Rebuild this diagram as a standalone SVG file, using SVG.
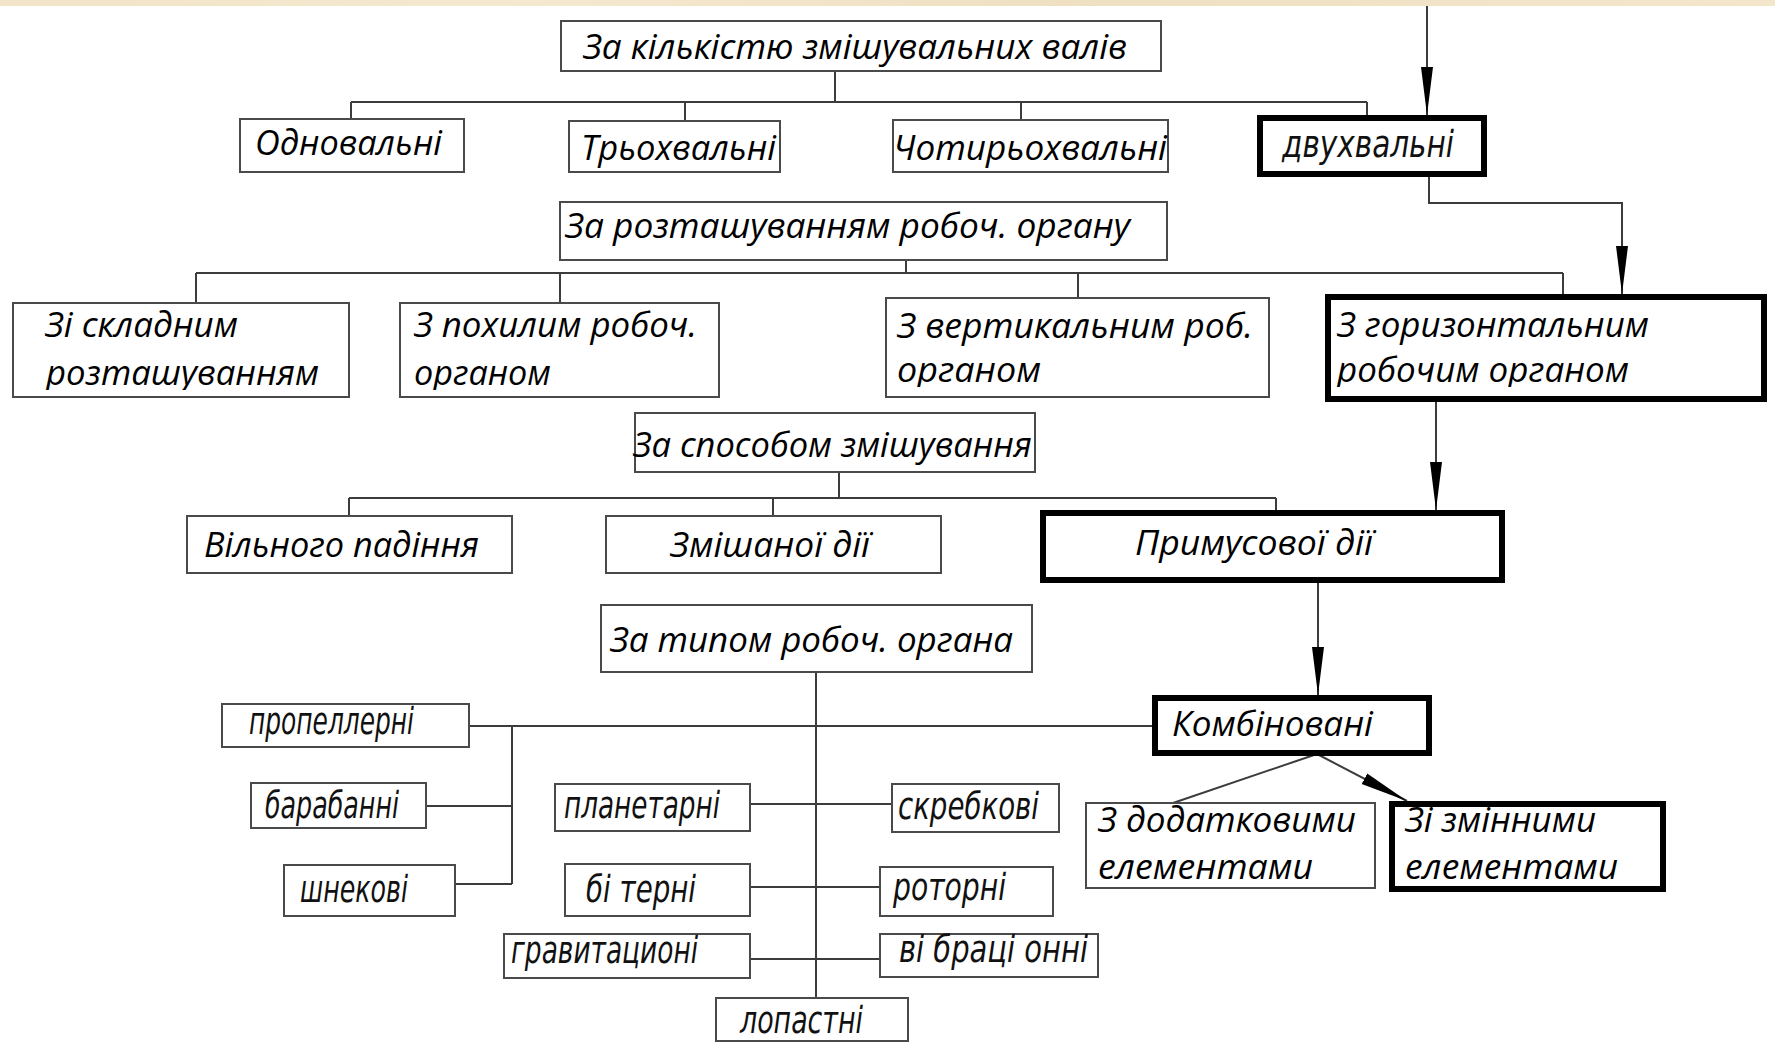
<svg xmlns="http://www.w3.org/2000/svg" width="1775" height="1044" viewBox="0 0 1775 1044">
<style>
.bx{fill:#fff;stroke:#4a4a4a;stroke-width:2}
.bb{fill:#fff;stroke:#000;stroke-width:6}
.ln{fill:none;stroke:#3c3c3c;stroke-width:2}
.t{font-family:"Open Sans","Noto Sans",sans-serif;font-style:italic;font-size:35px;fill:#000}
.g{font-family:"DejaVu Sans Condensed","DejaVu Sans",sans-serif;font-style:italic;font-size:37px;fill:#111}
</style>
<defs>
<linearGradient id="band" x1="0" x2="1" y1="0" y2="0">
<stop offset="0" stop-color="#f1e4c8"/><stop offset="0.3" stop-color="#f4e8cf"/><stop offset="0.6" stop-color="#efe0c2"/><stop offset="1" stop-color="#f3e6cb"/>
</linearGradient>
<marker id="ah" markerUnits="userSpaceOnUse" markerWidth="50" markerHeight="14" refX="48" refY="7" orient="auto">
<path d="M0,1 L48,7 L0,13 Z" fill="#000"/>
</marker>
<clipPath id="c1"><rect x="0" y="290" width="760" height="100"/></clipPath>
<clipPath id="c2"><rect x="880" y="290" width="890" height="97"/></clipPath>
</defs>
<rect width="1775" height="1044" fill="#fff"/>
<rect width="1775" height="6" fill="url(#band)"/>

<g id="connectors">
<path class="ln" d="M835,71 V102 M351,102 H1367 M351,102 V119 M685,102 V121 M1021,102 V120 M1367,102 V115"/>
<path class="ln" d="M906,260 V273 M196,273 H1563 M196,273 V303 M560,273 V303 M1078,273 V298 M1563,273 V294"/>
<path class="ln" d="M839,472 V498 M349,498 H1276 M349,498 V516 M773,498 V516 M1276,498 V510"/>
<path class="ln" d="M816,672 V998 M469,726 H1152 M512,726 V884 M426,806 H512 M455,884 H512 M750,804 H892 M750,887 H880 M750,959 H880"/>
<path class="ln" d="M1427,6 V115" marker-end="url(#ah)"/>
<path class="ln" d="M1429,177 V203 H1622 V294" marker-end="url(#ah)"/>
<path class="ln" d="M1436,402 V510" marker-end="url(#ah)"/>
<path class="ln" d="M1318,583 V695" marker-end="url(#ah)"/>
<path class="ln" d="M1317,754 L1173,803"/>
<path class="ln" d="M1317,754 L1407,801" marker-end="url(#ah)"/>
</g>

<g id="n-root1"><rect class="bx" x="561" y="21" width="600" height="50"/><text class="t" x="583" y="59" textLength="544" lengthAdjust="spacingAndGlyphs">За кількістю змішувальних валів</text></g>
<g id="n-odno"><rect class="bx" x="240" y="119" width="224" height="53"/><text class="t" x="255" y="155" textLength="187" lengthAdjust="spacingAndGlyphs">Одновальні</text></g>
<g id="n-troh"><rect class="bx" x="569" y="121" width="211" height="51"/><text class="t" x="581" y="160" textLength="195" lengthAdjust="spacingAndGlyphs">Трьохвальні</text></g>
<g id="n-chot"><rect class="bx" x="893" y="120" width="275" height="52"/><text class="t" x="893" y="160" textLength="274" lengthAdjust="spacingAndGlyphs">Чотирьохвальні</text></g>
<g id="n-dvuh"><rect class="bb" x="1260" y="118" width="224" height="56"/><text class="g" x="1282" y="157" textLength="172" lengthAdjust="spacingAndGlyphs">двухвальні</text></g>

<g id="n-root2"><rect class="bx" x="560" y="202" width="607" height="58"/><text class="t" x="565" y="238" textLength="565" lengthAdjust="spacingAndGlyphs">За розташуванням робоч. органу</text></g>
<g id="n-sklad"><rect class="bx" x="13" y="303" width="336" height="94"/><g clip-path="url(#c1)"><text class="t" x="45" y="337" textLength="193" lengthAdjust="spacingAndGlyphs">Зі складним</text><text class="t" x="46" y="385" textLength="273" lengthAdjust="spacingAndGlyphs">розташуванням</text></g></g>
<g id="n-poh"><rect class="bx" x="400" y="303" width="319" height="94"/><g clip-path="url(#c1)"><text class="t" x="414" y="337" textLength="283" lengthAdjust="spacingAndGlyphs">З похилим робоч.</text><text class="t" x="414" y="385" textLength="137" lengthAdjust="spacingAndGlyphs">органом</text></g></g>
<g id="n-vert"><rect class="bx" x="886" y="298" width="383" height="99"/><g clip-path="url(#c2)"><text class="t" x="897" y="338" textLength="356" lengthAdjust="spacingAndGlyphs">З вертикальним роб.</text><text class="t" x="897" y="382" textLength="144" lengthAdjust="spacingAndGlyphs">органом</text></g></g>
<g id="n-gor"><rect class="bb" x="1328" y="297" width="436" height="102"/><g clip-path="url(#c2)"><text class="t" x="1337" y="337" textLength="312" lengthAdjust="spacingAndGlyphs">З горизонтальним</text><text class="t" x="1337" y="382" textLength="292" lengthAdjust="spacingAndGlyphs">робочим органом</text></g></g>

<g id="n-root3"><rect class="bx" x="635" y="413" width="400" height="59"/><text class="t" x="633" y="457" textLength="399" lengthAdjust="spacingAndGlyphs">За способом змішування</text></g>
<g id="n-vil"><rect class="bx" x="187" y="516" width="325" height="57"/><text class="t" x="204" y="557" textLength="275" lengthAdjust="spacingAndGlyphs">Вільного падіння</text></g>
<g id="n-zmish"><rect class="bx" x="606" y="516" width="335" height="57"/><text class="t" x="670" y="557" textLength="200" lengthAdjust="spacingAndGlyphs">Змішаної дії</text></g>
<g id="n-prim"><rect class="bb" x="1043" y="513" width="459" height="67"/><text class="t" x="1135" y="555" textLength="238" lengthAdjust="spacingAndGlyphs">Примусової дії</text></g>

<g id="n-root4"><rect class="bx" x="601" y="605" width="431" height="67"/><text class="t" x="610" y="652" textLength="403" lengthAdjust="spacingAndGlyphs">За типом робоч. органа</text></g>
<g id="n-prop"><rect class="bx" x="222" y="704" width="247" height="43"/><text class="g" x="249" y="734" textLength="165" lengthAdjust="spacingAndGlyphs">пропеллерні</text></g>
<g id="n-barab"><rect class="bx" x="251" y="783" width="175" height="45"/><text class="g" x="265" y="818" textLength="134" lengthAdjust="spacingAndGlyphs">барабанні</text></g>
<g id="n-shnek"><rect class="bx" x="284" y="865" width="171" height="51"/><text class="g" x="300" y="902" textLength="108" lengthAdjust="spacingAndGlyphs">шнекові</text></g>
<g id="n-plan"><rect class="bx" x="555" y="784" width="195" height="47"/><text class="g" x="564" y="818" textLength="156" lengthAdjust="spacingAndGlyphs">планетарні</text></g>
<g id="n-bit"><rect class="bx" x="565" y="864" width="185" height="52"/><text class="g" x="586" y="902" textLength="110" lengthAdjust="spacingAndGlyphs">бі терні</text></g>
<g id="n-grav"><rect class="bx" x="504" y="934" width="246" height="44"/><text class="g" x="511" y="963" textLength="187" lengthAdjust="spacingAndGlyphs">гравитационі</text></g>
<g id="n-lop"><rect class="bx" x="716" y="998" width="192" height="43"/><text class="g" x="740" y="1033" textLength="123" lengthAdjust="spacingAndGlyphs">лопастні</text></g>
<g id="n-skreb"><rect class="bx" x="892" y="784" width="167" height="48"/><text class="g" x="898" y="819" textLength="141" lengthAdjust="spacingAndGlyphs">скребкові</text></g>
<g id="n-rot"><rect class="bx" x="880" y="867" width="173" height="49"/><text class="g" x="893" y="900" textLength="113" lengthAdjust="spacingAndGlyphs">роторні</text></g>
<g id="n-vibr"><rect class="bx" x="880" y="934" width="218" height="43"/><text class="g" x="899" y="962" textLength="189" lengthAdjust="spacingAndGlyphs">ві браці онні</text></g>

<g id="n-komb"><rect class="bb" x="1155" y="698" width="274" height="55"/><text class="t" x="1172" y="736" textLength="201" lengthAdjust="spacingAndGlyphs">Комбіновані</text></g>
<g id="n-dod"><rect class="bx" x="1086" y="803" width="289" height="85"/><text class="t" x="1098" y="832" textLength="258" lengthAdjust="spacingAndGlyphs">З додатковими</text><text class="t" x="1098" y="879" textLength="215" lengthAdjust="spacingAndGlyphs">елементами</text></g>
<g id="n-zmin"><rect class="bb" x="1392" y="804" width="271" height="85"/><text class="t" x="1405" y="832" textLength="191" lengthAdjust="spacingAndGlyphs">Зі змінними</text><text class="t" x="1405" y="879" textLength="213" lengthAdjust="spacingAndGlyphs">елементами</text></g>
</svg>
